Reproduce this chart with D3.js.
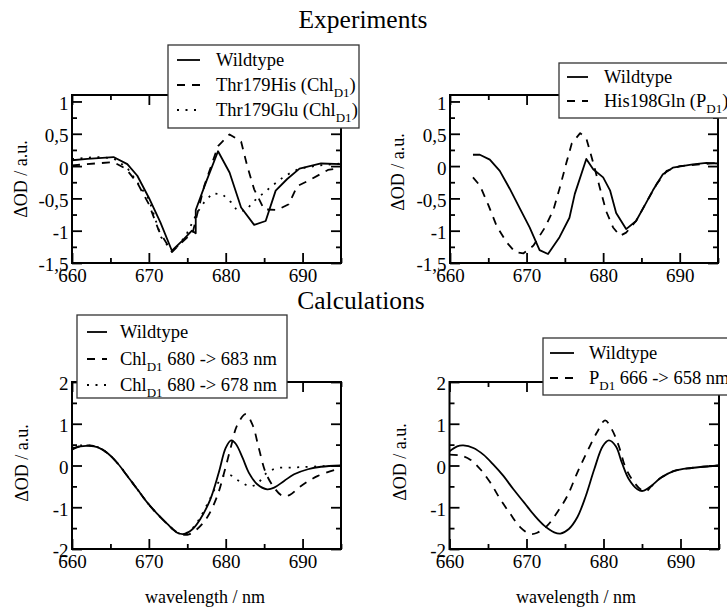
<!DOCTYPE html>
<html>
<head>
<meta charset="utf-8">
<script src="https://cdn.jsdelivr.net/npm/d3@7"></script>
<style>
  html, body { margin: 0; padding: 0; background: #fff; }
  svg { display: block; }
</style>
</head>
<body>
<svg id="fig" width="727" height="610"></svg>
<script>
// ---- Measured difference spectra (wavelength in nm, ΔOD in a.u.) ----

// Experiments: Thr179 mutants of Chl_D1
const expWildtypeA = [[660,0.09],[662,0.11],[665.4,0.14],[667.2,0.03],[668.5,-0.15],[670,-0.49],[671.5,-0.87],[673,-1.31],[674.3,-1.16],[675.6,-1.0],[676.1,-1.04],[676.1,-0.68],[677.4,-0.26],[679,0.23],[680.5,-0.1],[682,-0.64],[683.7,-0.91],[685.2,-0.85],[686.5,-0.38],[688,-0.2],[689.6,-0.04],[692.4,0.04],[695,0.03]];
const expThr179His = [[660,0.01],[663,0.04],[665.4,0.06],[667,-0.04],[668.5,-0.26],[670,-0.59],[671.3,-1.0],[673,-1.33],[674.3,-1.18],[675.7,-1.03],[677.2,-0.31],[679,0.31],[680.5,0.49],[682,0.38],[682.8,0.0],[683.7,-0.36],[685,-0.67],[686.7,-0.68],[688.2,-0.59],[689.3,-0.31],[690.7,-0.23],[693.3,-0.06],[695,-0.03]];
const expThr179Glu = [[660,0.11],[663.3,0.14],[665.4,0.12],[667.2,-0.03],[670,-0.51],[671.6,-1.1],[673.1,-1.33],[674.8,-1.08],[676.3,-0.72],[677.2,-0.56],[678.3,-0.42],[679.6,-0.44],[680.7,-0.56],[681.5,-0.69],[682.6,-0.69],[683.7,-0.54],[685,-0.41],[686,-0.31],[687.4,-0.18],[688.5,-0.1],[689.6,-0.04],[692,0.01],[695,0.04]];

// Experiments: His198Gln mutant of P_D1
const expWildtypeB = [[663,0.175],[663.9,0.175],[665.2,0.1],[666.5,-0.075],[667.8,-0.35],[669.1,-0.65],[670.4,-0.95],[671.7,-1.3],[672.8,-1.36],[674.3,-1.1],[675.6,-0.8],[676.3,-0.43],[677.8,0.11],[678.7,-0.05],[680,-0.175],[680.9,-0.375],[681.7,-0.725],[683,-0.975],[684.3,-0.85],[685.7,-0.55],[686.5,-0.375],[687.8,-0.125],[689.1,-0.025],[691.7,0.025],[693.5,0.05],[695,0.04]];
const expHis198Gln = [[663,-0.175],[663.9,-0.3],[665,-0.6],[666.1,-0.93],[667.4,-1.18],[668.5,-1.33],[669.6,-1.35],[670.9,-1.23],[672.4,-0.95],[673.5,-0.68],[674.3,-0.35],[675.2,0.05],[675.9,0.35],[677,0.51],[677.8,0.43],[678.7,0.05],[679.6,-0.35],[680.4,-0.7],[681.3,-0.95],[682.2,-1.08],[683,-1.03],[684.3,-0.85],[685.7,-0.55],[687,-0.275],[688.3,-0.075],[690,0],[695,0.05]];

// Calculations: Chl_D1 site energy shifts
const calcWildtypeA = [[660,0.38],[661.1,0.46],[662.2,0.47],[663.3,0.44],[664.6,0.3],[665.9,0.06],[667.2,-0.25],[668.5,-0.57],[669.8,-0.89],[671.1,-1.16],[672.4,-1.4],[673.7,-1.61],[674.6,-1.64],[675.7,-1.52],[676.7,-1.28],[678,-0.81],[679.1,-0.17],[680,0.42],[680.7,0.6],[681.3,0.52],[682.2,0.18],[683,-0.17],[684.1,-0.45],[685.4,-0.57],[686.3,-0.53],[687.6,-0.37],[688.9,-0.21],[690.7,-0.09],[692.4,-0.03],[695,0]];
const calcChl683 = [[660,0.4],[661.1,0.47],[662.2,0.48],[663.3,0.44],[664.6,0.3],[665.9,0.06],[667.2,-0.25],[668.5,-0.57],[669.8,-0.89],[671.1,-1.16],[672.4,-1.4],[673.7,-1.6],[675,-1.66],[676.3,-1.52],[677.6,-1.24],[678.9,-0.73],[679.8,-0.17],[680.7,0.46],[681.5,0.97],[682.6,1.23],[683.5,0.97],[684.3,0.42],[685.2,-0.17],[686.3,-0.53],[687.4,-0.73],[688.3,-0.71],[689.8,-0.49],[692,-0.25],[695,-0.06]];
const calcChl678 = [[660,0.42],[661.1,0.48],[662.2,0.48],[663.3,0.44],[664.6,0.3],[665.9,0.06],[667.2,-0.25],[668.5,-0.57],[669.8,-0.89],[671.1,-1.16],[672.4,-1.4],[673.7,-1.61],[674.6,-1.64],[675.7,-1.5],[676.7,-1.24],[678,-0.78],[679,-0.42],[679.8,-0.24],[680.5,-0.22],[681.3,-0.32],[682.2,-0.42],[683.2,-0.5],[684.2,-0.42],[685.2,-0.2],[686.5,-0.07],[688.5,-0.05],[691,-0.03],[695,0]];

// Calculations: P_D1 site energy shift
const calcWildtypeB = [[660,0.34],[661,0.46],[661.8,0.48],[663.1,0.42],[664.4,0.26],[665.7,0.02],[667,-0.25],[668.3,-0.57],[669.7,-0.89],[671,-1.19],[672.3,-1.44],[673.6,-1.6],[674.4,-1.63],[675.5,-1.52],[676.6,-1.24],[677.7,-0.73],[678.8,-0.09],[679.9,0.46],[680.7,0.6],[681.6,0.46],[682.4,0.06],[683.3,-0.33],[684.4,-0.57],[685.1,-0.61],[686.2,-0.49],[687.5,-0.29],[689.2,-0.13],[691.4,-0.06],[695,0]];
const calcPD1658 = [[660,0.26],[661.4,0.24],[662.7,0.14],[664,-0.09],[665.3,-0.41],[666.6,-0.81],[667.9,-1.16],[669.2,-1.48],[670.5,-1.64],[671.4,-1.61],[672.7,-1.44],[674,-1.12],[675.3,-0.73],[676.6,-0.17],[677.9,0.34],[679.2,0.81],[680.2,1.08],[681.1,0.86],[682,0.46],[682.8,-0.02],[683.7,-0.33],[684.8,-0.57],[685.5,-0.62],[686.2,-0.5],[687.5,-0.29],[689.2,-0.13],[691.4,-0.06],[695,0]];

// Axis ticks
const xTicks = [660, 670, 680, 690];
const xMinorTicks = [665, 675, 685, 695];
const yTicksExp = [-1.5, -1, -0.5, 0, 0.5, 1];
const yMinorExp = [-1.25, -0.75, -0.25, 0.25, 0.75];
const yTicksCalc = [-2, -1, 0, 1, 2];
const yMinorCalc = [-1.5, -0.5, 0.5, 1.5];

// Section titles and axis texts
const sectionTitles = ["Experiments", "Calculations"];
const yAxisTitle = "ΔOD / a.u.";
const xAxisTitle = "wavelength / nm";

// ---- drawing ----
const FONT = "'Liberation Serif', 'Times New Roman', Times, serif";
const svg = d3.select("#fig");
svg.append("rect").attr("width", 727).attr("height", 610).attr("fill", "#fff");

const dashStyles = { solid: null, dashed: "8,7", dotted: "2,6.5" };
const fmt = v => String(v).replace(".", ",");

// Legend label pieces: [text, isSubscript]
const panels = [
  {
    box: { l: 72, r: 341, t: 95, b: 263 },
    yDomain: [-1.5, 1.1], yTicks: yTicksExp, yMinor: yMinorExp, curve: d3.curveLinear,
    series: [
      { data: expWildtypeA, style: "solid", label: [["Wildtype", false]] },
      { data: expThr179His, style: "dashed", label: [["Thr179His (Chl", false], ["D1", true], [")", false]] },
      { data: expThr179Glu, style: "dotted", label: [["Thr179Glu (Chl", false], ["D1", true], [")", false]] }
    ],
    legend: { x: 168, y: 45, w: 191, h: 83, rows: [60, 85, 110], s0: 177, s1: 200, tx: 216 },
    yLabel: { x: 21, y: 179 }
  },
  {
    box: { l: 450, r: 718, t: 95, b: 263 },
    yDomain: [-1.5, 1.1], yTicks: yTicksExp, yMinor: yMinorExp, curve: d3.curveLinear,
    series: [
      { data: expWildtypeB, style: "solid", label: [["Wildtype", false]] },
      { data: expHis198Gln, style: "dashed", label: [["His198Gln (P", false], ["D1", true], [")", false]] }
    ],
    legend: { x: 559, y: 63, w: 180, h: 55, rows: [77, 101], s0: 567, s1: 588, tx: 604 },
    yLabel: { x: 398, y: 172 }
  },
  {
    box: { l: 72, r: 341, t: 382, b: 549 },
    yDomain: [-2, 2], yTicks: yTicksCalc, yMinor: yMinorCalc, curve: d3.curveCatmullRom.alpha(0.5),
    series: [
      { data: calcWildtypeA, style: "solid", label: [["Wildtype", false]] },
      { data: calcChl683, style: "dashed", label: [["Chl", false], ["D1", true], [" 680 -> 683 nm", false]] },
      { data: calcChl678, style: "dotted", label: [["Chl", false], ["D1", true], [" 680 -> 678 nm", false]] }
    ],
    legend: { x: 77, y: 315, w: 210, h: 83, rows: [332, 359, 385], s0: 87, s1: 107, tx: 120 },
    yLabel: { x: 22, y: 463 },
    xLabel: { x: 205, y: 603 }
  },
  {
    box: { l: 449.5, r: 719, t: 382, b: 549 },
    yDomain: [-2, 2], yTicks: yTicksCalc, yMinor: yMinorCalc, curve: d3.curveCatmullRom.alpha(0.5),
    series: [
      { data: calcWildtypeB, style: "solid", label: [["Wildtype", false]] },
      { data: calcPD1658, style: "dashed", label: [["P", false], ["D1", true], [" 666 -> 658 nm", false]] }
    ],
    legend: { x: 543, y: 338, w: 195, h: 57, rows: [353, 378], s0: 550, s1: 574, tx: 589 },
    yLabel: { x: 400, y: 462 },
    xLabel: { x: 576, y: 603 }
  }
];

// Section titles
svg.append("text").attr("x", 363).attr("y", 28).attr("text-anchor", "middle")
  .attr("font-family", FONT).attr("font-size", 25.5).text(sectionTitles[0]);
svg.append("text").attr("x", 361).attr("y", 309).attr("text-anchor", "middle")
  .attr("font-family", FONT).attr("font-size", 25.5).text(sectionTitles[1]);

panels.forEach((p, i) => {
  const { l, r, t, b } = p.box;
  const x = d3.scaleLinear().domain([660, 695]).range([l, r]);
  const y = d3.scaleLinear().domain(p.yDomain).range([b, t]);
  const g = svg.append("g");

  const clipId = "clip" + i;
  svg.append("clipPath").attr("id", clipId).append("rect")
    .attr("x", l).attr("y", t).attr("width", r - l).attr("height", b - t);

  // curves
  const line = d3.line().x(d => x(d[0])).y(d => y(d[1])).curve(p.curve);
  g.append("g").attr("clip-path", `url(#${clipId})`)
    .selectAll("path").data(p.series).join("path")
    .attr("d", s => line(s.data))
    .attr("fill", "none").attr("stroke", "#000").attr("stroke-width", 1.8)
    .attr("stroke-linejoin", "round")
    .attr("stroke-dasharray", s => dashStyles[s.style]);

  // axes with inward ticks on all four sides
  const styleAxis = sel => {
    sel.select(".domain").remove();
    sel.selectAll(".tick line").attr("stroke", "#000").attr("stroke-width", 1.8);
    sel.selectAll("text").attr("font-family", FONT).attr("font-size", 19).attr("fill", "#000");
  };
  g.append("g").attr("transform", `translate(0,${b})`)
    .call(d3.axisBottom(x).tickValues(xTicks).tickSize(-10).tickPadding(5.5).tickFormat(d3.format("d")))
    .call(styleAxis);
  g.append("g").attr("transform", `translate(0,${b})`)
    .call(d3.axisBottom(x).tickValues(xMinorTicks).tickSize(-5).tickFormat(""))
    .call(styleAxis);
  g.append("g").attr("transform", `translate(0,${t})`)
    .call(d3.axisTop(x).tickValues(xTicks).tickSize(-10).tickFormat(""))
    .call(styleAxis);
  g.append("g").attr("transform", `translate(0,${t})`)
    .call(d3.axisTop(x).tickValues(xMinorTicks).tickSize(-5).tickFormat(""))
    .call(styleAxis);
  g.append("g").attr("transform", `translate(${l},0)`)
    .call(d3.axisLeft(y).tickValues(p.yTicks).tickSize(-10).tickPadding(3.5).tickFormat(fmt))
    .call(styleAxis)
    .call(s => s.selectAll("text").attr("dy", "0.42em"));
  g.append("g").attr("transform", `translate(${l},0)`)
    .call(d3.axisLeft(y).tickValues(p.yMinor).tickSize(-5).tickFormat(""))
    .call(styleAxis);
  g.append("g").attr("transform", `translate(${r},0)`)
    .call(d3.axisRight(y).tickValues(p.yTicks).tickSize(-10).tickFormat(""))
    .call(styleAxis);
  g.append("g").attr("transform", `translate(${r},0)`)
    .call(d3.axisRight(y).tickValues(p.yMinor).tickSize(-5).tickFormat(""))
    .call(styleAxis);

  // frame
  g.append("rect").attr("x", l).attr("y", t).attr("width", r - l).attr("height", b - t)
    .attr("fill", "none").attr("stroke", "#000").attr("stroke-width", 2);

  // y axis title
  g.append("text")
    .attr("transform", `translate(${p.yLabel.x},${p.yLabel.y}) rotate(-90)`)
    .attr("text-anchor", "middle").attr("dy", "0.35em")
    .attr("font-family", FONT).attr("font-size", 18).text(yAxisTitle);

  // x axis title
  if (p.xLabel) {
    g.append("text").attr("x", p.xLabel.x).attr("y", p.xLabel.y)
      .attr("text-anchor", "middle").attr("font-family", FONT).attr("font-size", 18)
      .text(xAxisTitle);
  }

  // legend
  const L = p.legend;
  const lg = svg.append("g");
  lg.append("rect").attr("x", L.x).attr("y", L.y).attr("width", L.w).attr("height", L.h)
    .attr("fill", "#fff").attr("stroke", "#333").attr("stroke-width", 1.3);
  p.series.forEach((s, k) => {
    const ry = L.rows[k];
    lg.append("line").attr("x1", L.s0).attr("x2", L.s1).attr("y1", ry).attr("y2", ry)
      .attr("stroke", "#000").attr("stroke-width", 1.8)
      .attr("stroke-dasharray", dashStyles[s.style]);
    const txt = lg.append("text").attr("x", L.tx).attr("y", ry + 6)
      .attr("font-family", FONT).attr("font-size", 18.5);
    let shifted = false;
    s.label.forEach(([str, sub]) => {
      const ts = txt.append("tspan").text(str);
      if (sub) { ts.attr("font-size", 13).attr("dy", 6); shifted = true; }
      else if (shifted) { ts.attr("dy", -6); shifted = false; }
    });
  });
});
</script>
</body>
</html>
